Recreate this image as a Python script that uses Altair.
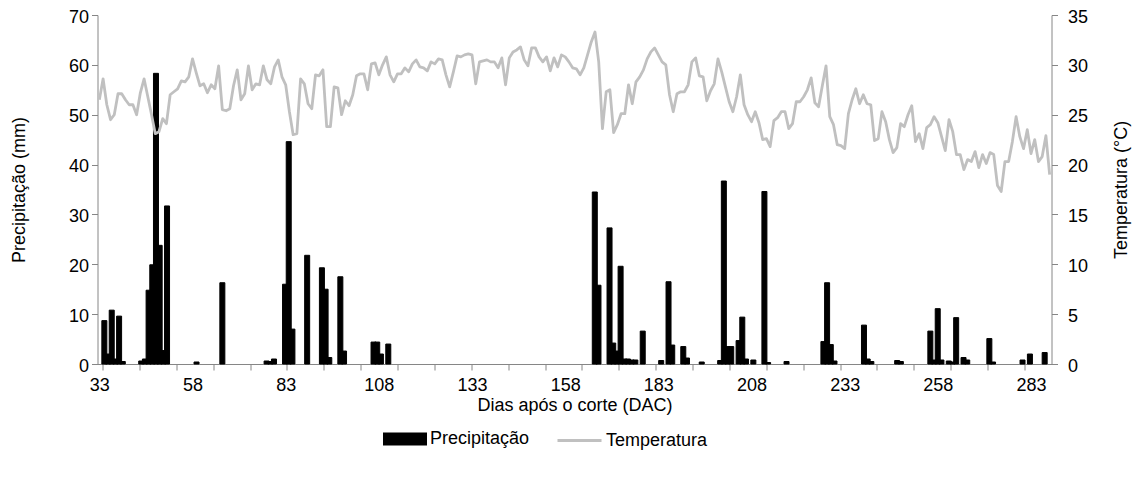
import pandas as pd
import altair as alt

# ── DATA ──────────────────────────────────────────────────────────────
# rainy days and their precipitation (mm)
rain_day = [33, 34, 35, 36, 37, 38,
            43, 44, 45, 46, 47, 48, 49, 50,
            58, 65, 77, 78, 79, 82, 83, 84,
            88, 92, 93, 94, 97, 98,
            106, 107, 108, 110,
            166, 167, 170, 171, 172, 173, 174, 175, 176, 177,
            179, 184, 186, 187, 190, 191, 195,
            200, 201, 202, 203, 205, 206, 207, 209,
            212, 213, 218, 228, 229, 230, 231,
            239, 240, 241, 248, 249,
            257, 258, 259, 260, 262, 263, 264, 266, 267,
            273, 274, 282, 284, 288]
rain_mm = [8.7, 2.0, 10.8, 1.0, 9.6, 0.5,
           0.6, 1.0, 14.8, 19.9, 58.3, 23.8, 2.7, 31.7,
           0.4, 16.3, 0.6, 0.5, 1.0, 16.0, 44.6, 7.0,
           21.8, 19.3, 15.0, 1.3, 17.5, 2.6,
           4.4, 4.4, 2.0, 4.0,
           34.5, 15.8, 27.3, 4.2, 2.6, 19.6, 1.0, 1.0, 0.8, 0.8,
           6.6, 0.7, 16.5, 3.8, 3.5, 1.2, 0.4,
           0.7, 36.7, 3.5, 3.5, 4.7, 9.4, 1.0, 0.8,
           34.6, 0.3, 0.5, 4.5, 16.3, 3.9, 0.6,
           7.8, 1.0, 0.5, 0.7, 0.5,
           6.6, 0.8, 11.1, 0.8, 0.6, 0.4, 9.3, 1.3, 0.8,
           5.1, 0.4, 0.8, 2.0, 2.3]

# daily temperature (ºC), day 33 to day 288
temp_c = [26.5, 28.6, 26.0, 24.5, 25.0, 27.1, 27.1, 26.5, 26.0, 26.0,
          25.0, 27.2, 28.6, 26.8, 25.0, 23.1, 23.3, 24.6, 24.1, 27.0,
          27.3, 27.6, 28.4, 28.3, 28.8, 30.6, 29.2, 27.9, 28.1, 27.2,
          28.0, 27.6, 29.9, 25.5, 25.4, 25.6, 27.9, 29.5, 26.5, 27.1,
          29.9, 27.5, 28.1, 28.0, 29.9, 28.5, 28.1, 29.8, 30.5, 28.8,
          28.0, 25.3,
          23.0, 23.1, 28.6, 28.1, 26.1, 25.6, 29.0, 28.9, 29.5, 23.8,
          23.8, 27.8, 27.7, 25.0, 26.4, 25.9, 27.0, 28.9, 29.1, 29.1,
          27.5, 30.1, 30.2, 29.0, 30.0, 30.8, 29.0, 28.3, 29.1, 29.1,
          29.7, 29.3, 30.1, 30.5, 29.8, 29.7, 29.4, 30.3, 30.1, 30.6,
          30.5, 29.0, 27.8, 29.3, 30.9, 30.8, 31.0, 31.1, 31.0, 28.1,
          30.3, 30.4, 30.5, 30.3, 30.3, 29.7, 30.7, 28.0, 30.7, 31.3,
          31.5, 31.8, 30.5, 29.9, 31.7, 31.7, 30.8, 30.3, 30.8, 29.4,
          30.7, 29.8, 31.0, 30.8, 30.3, 29.7, 29.6, 29.0, 29.7, 31.0,
          32.3, 33.3, 30.3, 23.6, 27.3, 27.5, 23.2, 24.0, 25.1, 25.1,
          28.0, 26.1, 28.3, 28.8, 29.5, 30.6, 31.3, 31.7, 31.0, 30.3,
          30.0, 27.0,
          25.3, 27.1, 27.3, 27.3, 28.0, 30.3, 30.7, 28.9, 28.8, 26.4,
          27.4, 28.1, 30.6, 29.3, 27.8, 26.3, 25.3, 26.8, 29.0, 26.0,
          25.0, 24.3, 25.3, 24.2, 22.5, 22.6, 21.8, 24.4, 24.7, 25.3,
          25.3, 23.6, 24.1, 26.3, 26.3, 26.8, 27.5, 28.7, 26.2, 25.8,
          27.9, 29.9, 24.8, 24.0, 22.0, 21.9, 21.6, 25.1, 26.5, 27.6,
          26.1,
          27.0, 26.1, 26.0, 22.4, 22.6, 25.3, 24.3, 22.5, 21.2, 21.7,
          24.1, 23.8, 25.0, 25.9, 22.3, 23.1, 21.6, 23.7, 24.0, 24.8,
          24.2, 22.8, 21.4, 24.5, 23.3, 21.0, 21.0, 19.5, 20.5, 20.3,
          21.3, 19.7, 21.0, 20.1, 21.2, 21.0, 17.9, 17.3, 20.3, 20.3,
          22.3, 24.8, 22.8, 21.6, 23.5, 21.1, 22.5, 20.3, 20.8, 22.9,
          19.0]
temp_day = list(range(33, 33 + len(temp_c)))

# axis marks: ticks between every 10th day, labels every 25th day
tick_days = [32.5, 42.5, 52.5, 62.5, 72.5, 82.5, 92.5, 102.5, 112.5, 122.5,
             132.5, 142.5, 152.5, 162.5, 172.5, 182.5, 192.5, 202.5, 212.5,
             222.5, 232.5, 242.5, 252.5, 262.5, 272.5, 282.5]
label_days = [33, 58, 83, 108, 133, 158, 183, 208, 233, 258, 283]
rain_ticks = [0, 10, 20, 30, 40, 50, 60, 70]
temp_ticks = [0, 5, 10, 15, 20, 25, 30, 35]

rain = pd.DataFrame({'Dia': rain_day, 'Precipitacao': rain_mm, 'serie': 'Precipitação'})
temp = pd.DataFrame({'Dia': temp_day, 'Temperatura': temp_c, 'serie': 'Temperatura'})

FONT = 'Liberation Sans'
FS = 18
GREY = '#868686'

x_scale = alt.Scale(domain=[32.5, 288.5], nice=False, zero=False)

bars = alt.Chart(rain).mark_bar(
    size=5, stroke='black', strokeWidth=1, strokeJoin='round'
).encode(
    x=alt.X('Dia:Q', scale=x_scale,
            axis=alt.Axis(orient='bottom', values=tick_days, labels=False,
                          tickSize=6, grid=False, title=None)),
    y=alt.Y('Precipitacao:Q', scale=alt.Scale(domain=[0, 70], nice=False),
            axis=alt.Axis(orient='left', values=rain_ticks, tickSize=6, labelPadding=3,
                          labelOffset=2, grid=False, title='Precipitação (mm)',
                          titleX=-78, titleY=174.5, titleAngle=270,
                          titleAlign='center', titleBaseline='middle')),
    color=alt.Color('serie:N', scale=alt.Scale(domain=['Precipitação'], range=['black']),
                    legend=alt.Legend(orient='none', legendX=285.5, legendY=402,
                                      title=None, padding=0,
                                      symbolType='M-1,-0.3H1V0.3H-1Z', symbolSize=1936,
                                      symbolStrokeWidth=0, labelOffset=3))
)

line = alt.Chart(temp).mark_line(strokeWidth=2.8, strokeJoin='round').encode(
    x=alt.X('Dia:Q', scale=x_scale,
            axis=alt.Axis(orient='bottom', values=label_days, ticks=False, tickSize=0,
                          domain=False, grid=False, labelPadding=12,
                          title='Dias após o corte (DAC)',
                          titleY=32, titleBaseline='top')),
    y=alt.Y('Temperatura:Q', scale=alt.Scale(domain=[0, 35], nice=False),
            axis=alt.Axis(orient='right', values=temp_ticks, tickSize=6, labelPadding=10,
                          labelOffset=2, grid=False, title='Temperatura (°C)',
                          titleX=70, titleY=174.5, titleAngle=270,
                          titleAlign='center', titleBaseline='middle')),
    color=alt.Color('serie:N', scale=alt.Scale(domain=['Temperatura'], range=['#c0c0c0']),
                    legend=alt.Legend(orient='none', legendX=458.5, legendY=402,
                                      title=None, padding=0,
                                      symbolType='stroke', symbolSize=1936,
                                      symbolStrokeWidth=3, labelOffset=3))
)

chart = alt.layer(bars, line).resolve_scale(
    x='independent', y='independent', color='independent'
).properties(
    width=954, height=349,
    autosize='none',
    padding={'left': 89.5, 'top': 7, 'right': 80, 'bottom': 106}
).configure_view(stroke=None).configure_axis(
    domainColor=GREY, tickColor=GREY, labelColor='black', titleColor='black',
    labelFont=FONT, titleFont=FONT, labelFontSize=FS, titleFontSize=FS,
    titleFontWeight='normal'
).configure_legend(
    labelFont=FONT, labelFontSize=FS, labelColor='black'
)

chart.save('out.html', embed_options={'renderer': 'svg', 'actions': False})
